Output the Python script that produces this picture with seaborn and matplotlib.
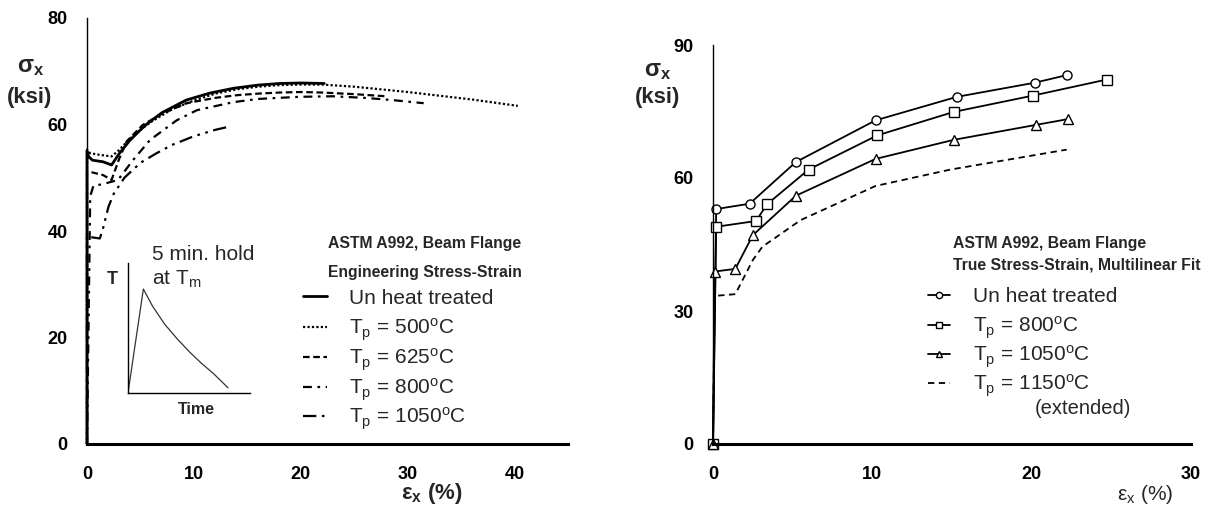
import numpy as np
import pandas as pd
import matplotlib
matplotlib.use("Agg")
import matplotlib.pyplot as plt
import seaborn as sns
from matplotlib.lines import Line2D

# ---------------- data: left panel (engineering stress-strain) ----------------
eng_un_x = [0, 0, 0.15, 0.5, 1.5, 2.3, 3.0, 4.0, 5.0, 5.6, 7.0, 9.3, 11.5, 13.7, 16.0, 18.0, 20.0, 22.2]
eng_un_y = [0, 55.0, 54.0, 53.3, 53.0, 52.4, 54.5, 57.0, 59.0, 60.1, 62.2, 64.6, 65.9, 66.8, 67.4, 67.7, 67.8, 67.7]

eng_500_x = [0, 0, 0.3, 1.2, 2.3, 3.0, 4.0, 5.0, 6.0, 8.0, 10.0, 12.0, 14.0, 16.0, 18.0, 20.0, 22.0, 25.0, 28.0, 30.0, 33.0, 36.0, 40.3]
eng_500_y = [0, 55.3, 54.6, 54.3, 54.0, 55.2, 57.3, 59.0, 60.5, 62.9, 64.5, 65.8, 66.6, 67.1, 67.4, 67.5, 67.5, 67.1, 66.5, 66.1, 65.4, 64.7, 63.5]

eng_625_x = [0, 0, 0.5, 1.5, 2.3, 3.0, 3.7, 5.2, 7.0, 9.3, 12.0, 14.0, 16.0, 18.0, 20.0, 22.0, 25.0, 28.0]
eng_625_y = [0, 51.0, 51.0, 50.5, 49.6, 53.5, 56.8, 59.9, 62.0, 64.0, 65.0, 65.5, 65.8, 66.0, 66.1, 66.0, 65.7, 65.3]

eng_800_x = [0, 0.3, 0.6, 1.5, 2.9, 4.3, 5.9, 8.4, 10.3, 13.7, 16.0, 19.9, 23.0, 26.0, 28.5, 31.5]
eng_800_y = [0, 46.5, 48.5, 48.8, 49.6, 53.3, 57.1, 60.8, 62.7, 64.2, 64.8, 65.2, 65.3, 65.0, 64.6, 64.0]

eng_1050_x = [0, 0, 0.5, 1.2, 1.5, 2.0, 2.5, 3.5, 5.0, 6.5, 8.0, 10.0, 12.0, 13.3]
eng_1050_y = [0, 39.0, 38.8, 38.6, 40.5, 44.5, 47.0, 50.0, 52.8, 54.6, 56.2, 57.8, 59.0, 59.6]

# inset: heating / cooling history
inset_t = [0, 0.126, 0.2, 0.3, 0.4, 0.5, 0.6, 0.7, 0.82]
inset_T = [0, 0.80, 0.67, 0.53, 0.42, 0.32, 0.23, 0.15, 0.04]

# ---------------- data: right panel (true stress-strain, multilinear) ----------------
true_un_x = [0, 0.2, 2.3, 5.2, 10.2, 15.3, 20.2, 22.2]
true_un_y = [0, 53.0, 54.2, 63.6, 73.0, 78.3, 81.5, 83.2]

true_800_x = [0, 0.2, 2.7, 3.4, 6.0, 10.3, 15.1, 20.1, 24.7]
true_800_y = [0, 49.0, 50.3, 54.1, 61.9, 69.6, 74.9, 78.6, 82.2]

true_1050_x = [0, 0.1, 1.4, 2.5, 5.2, 10.2, 15.1, 20.3, 22.3]
true_1050_y = [0, 38.9, 39.5, 47.1, 56.0, 64.3, 68.6, 72.0, 73.3]

true_1150_x = [0, 0.1, 1.4, 2.5, 3.1, 5.5, 10.2, 14.9, 22.2]
true_1150_y = [0, 33.4, 33.8, 41.5, 44.5, 50.5, 58.2, 61.9, 66.4]

left_xticks = [0, 10, 20, 30, 40]
left_yticks = [0, 20, 40, 60, 80]
right_xticks = [0, 10, 20, 30]
right_xminor = [5, 15, 25]
right_yticks = [0, 30, 60, 90]

left_labels = ["Un heat treated",
               "T$_\\mathregular{p}$ = 500$^\\mathregular{o}$C",
               "T$_\\mathregular{p}$ = 625$^\\mathregular{o}$C",
               "T$_\\mathregular{p}$ = 800$^\\mathregular{o}$C",
               "T$_\\mathregular{p}$ = 1050$^\\mathregular{o}$C"]
right_labels = ["Un heat treated",
                "T$_\\mathregular{p}$ = 800$^\\mathregular{o}$C",
                "T$_\\mathregular{p}$ = 1050$^\\mathregular{o}$C",
                "T$_\\mathregular{p}$ = 1150$^\\mathregular{o}$C"]

# ---------------- style ----------------
sns.set_style("white")
plt.rcParams["font.family"] = ["Liberation Sans", "DejaVu Sans"]
plt.rcParams["mathtext.default"] = "regular"

W, H = 1209, 521
fig = plt.figure(figsize=(W / 100, H / 100), dpi=100)

def fx(px):
    return px / W

def fy(py):
    return 1 - py / H

ax1 = fig.add_axes([fx(87), fy(444), fx(568 - 87), (444 - 18) / H])
ax2 = fig.add_axes([fx(713), fy(444), fx(1191 - 713), (444 - 45) / H])

styles_left = [
    dict(linestyle="-", linewidth=2.0),
    dict(linestyle=(0, (1.0, 1.0)), linewidth=1.6),
    dict(linestyle=(0, (3.0, 1.6)), linewidth=1.6),
    dict(linestyle=(0, (4.0, 2.5, 1.2, 2.5)), linewidth=1.6),
    dict(linestyle=(0, (6.0, 2.5, 1.2, 2.5, 1.2, 2.5)), linewidth=1.6),
]
left_series = [(eng_un_x, eng_un_y), (eng_500_x, eng_500_y), (eng_625_x, eng_625_y),
               (eng_800_x, eng_800_y), (eng_1050_x, eng_1050_y)]

for (xs, ys), st in zip(left_series, styles_left):
    sns.lineplot(x=xs, y=ys, ax=ax1, color="black", sort=False, estimator=None,
                 clip_on=False, **st)

ax1.set_xlim(0, 45)
ax1.set_ylim(0, 80)

# right panel
markers = ["o", "s", "^"]
right_series = [(true_un_x, true_un_y), (true_800_x, true_800_y), (true_1050_x, true_1050_y)]
for (xs, ys), m in zip(right_series, markers):
    sns.lineplot(x=xs, y=ys, ax=ax2, color="black", sort=False, estimator=None,
                 linewidth=1.3, marker=m, markersize=6.5,
                 markerfacecolor="white", markeredgecolor="black", markeredgewidth=1.0,
                 clip_on=False)
dash_1150 = (0, (3.5, 2.5))
sns.lineplot(x=true_1150_x, y=true_1150_y, ax=ax2, color="black", sort=False, estimator=None,
             linewidth=1.3, linestyle=dash_1150, clip_on=False)
ax2.set_xlim(0, 30)
ax2.set_ylim(0, 90)

for ax in (ax1, ax2):
    sns.despine(ax=ax)
    ax.spines["left"].set_linewidth(1.0)
    ax.spines["bottom"].set_linewidth(2.2)
    ax.spines["left"].set_color("black")
    ax.spines["bottom"].set_color("black")
    ax.set_xlabel("")
    ax.set_ylabel("")
    ax.tick_params(axis="y", direction="out", length=5, width=1, pad=9, colors="black")
    ax.tick_params(axis="x", direction="in", length=8, width=1, pad=16, colors="black")

ax1.set_xticks(left_xticks)
ax1.set_yticks(left_yticks)
ax2.set_xticks(right_xticks)
ax2.set_xticks(right_xminor, minor=True)
ax2.tick_params(axis="x", which="minor", direction="in", length=6, width=1)
ax2.set_yticks(right_yticks)

for ax in (ax1, ax2):
    for lab in ax.get_xticklabels() + ax.get_yticklabels():
        lab.set_fontweight("bold")
        lab.set_fontsize(13)

# axis labels
fig.text(fx(31), fy(66), "σ$_\\mathregular{x}$", ha="center", va="center",
         fontsize=17, fontweight="bold")
fig.text(fx(30), fy(97), "(ksi)", ha="center", va="center", fontsize=16, fontweight="bold")
fig.text(fx(658), fy(70), "σ$_\\mathregular{x}$", ha="center", va="center",
         fontsize=17, fontweight="bold")
fig.text(fx(658), fy(98), "(ksi)", ha="center", va="center", fontsize=16, fontweight="bold")

fig.text(fx(432), fy(494), "ε$_\\mathregular{x}$ (%)", ha="center", va="center",
         fontsize=16, fontweight="bold")
fig.text(fx(1145), fy(495), "ε$_\\mathregular{x}$ (%)", ha="center", va="center",
         fontsize=15)

# legend titles
TS = 11.3
fig.text(fx(328), fy(243), "ASTM A992, Beam Flange", ha="left", va="center",
         fontsize=TS, fontweight="bold")
fig.text(fx(328), fy(272), "Engineering Stress-Strain", ha="left", va="center",
         fontsize=TS, fontweight="bold")
fig.text(fx(953), fy(243), "ASTM A992, Beam Flange", ha="left", va="center",
         fontsize=TS, fontweight="bold")
fig.text(fx(953), fy(265), "True Stress-Strain, Multilinear Fit", ha="left", va="center",
         fontsize=TS, fontweight="bold")

# legends (hand-placed rows, 30 px apart)
left_rows = [296, 327, 357, 387, 416]
for st, lab, yy in zip(styles_left, left_labels, left_rows):
    fig.add_artist(Line2D([fx(303), fx(327)], [fy(yy), fy(yy)], color="black",
                          transform=fig.transFigure, **st))
    fig.text(fx(349), fy(yy + 7.5), lab, ha="left", va="baseline", fontsize=15)

right_rows = [295, 325, 354, 383]
for i, (lab, yy) in enumerate(zip(right_labels, right_rows)):
    if i < 3:
        fig.add_artist(Line2D([fx(928), fx(939), fx(950)], [fy(yy)] * 3, color="black",
                              linewidth=1.3, marker=markers[i], markersize=4.5,
                              markevery=[1], markerfacecolor="white",
                              markeredgecolor="black", markeredgewidth=1.0,
                              transform=fig.transFigure))
    else:
        fig.add_artist(Line2D([fx(928), fx(950)], [fy(yy)] * 2, color="black",
                              linewidth=1.3, linestyle=dash_1150,
                              transform=fig.transFigure))
    fig.text(fx(973), fy(yy + 7.5), lab, ha="left", va="baseline", fontsize=15)
fig.text(fx(1035), fy(409), "(extended)", ha="left", va="center", fontsize=14.5)

# inset
axi = fig.add_axes([fx(128), fy(393), fx(250 - 128), (393 - 263) / H])
sns.lineplot(x=inset_t, y=inset_T, ax=axi, color="#333333", linewidth=0.9, sort=False,
             estimator=None)
axi.set_xlim(0, 1)
axi.set_ylim(0, 1)
axi.set_xticks([])
axi.set_yticks([])
axi.set_xlabel("")
axi.set_ylabel("")
axi.patch.set_alpha(0)
for s in ("top", "right"):
    axi.spines[s].set_visible(False)
for s in ("left", "bottom"):
    axi.spines[s].set_linewidth(1.0)
    axi.spines[s].set_color("black")
fig.text(fx(112), fy(279), "T", ha="center", va="center", fontsize=13, fontweight="bold")
fig.text(fx(196), fy(410), "Time", ha="center", va="center", fontsize=11.5,
         fontweight="bold")
fig.text(fx(152), fy(254), "5 min. hold", ha="left", va="center", fontsize=15)
fig.text(fx(152), fy(279), "at T$_\\mathregular{m}$", ha="left", va="center", fontsize=15)

fig.savefig("out.png", dpi=100)
